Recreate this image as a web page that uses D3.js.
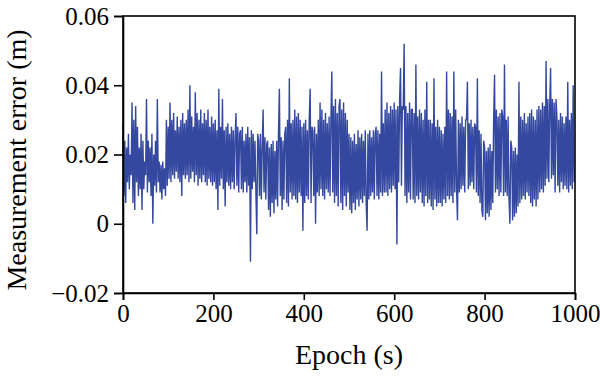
<!DOCTYPE html>
<html>
<head>
<meta charset="utf-8">
<script src="https://cdn.jsdelivr.net/npm/d3@7"></script>
<style>
    body { margin: 0; background: #fff; }
    .axis text { font-family: "Liberation Serif", "DejaVu Serif", serif; font-size: 25px; fill: #000; }
    .axis path, .axis line { stroke: #000; stroke-width: 1.6px; }
    .label { font-family: "Liberation Serif", "DejaVu Serif", serif; font-size: 28px; fill: #000; }
</style>
</head>
<body>
<div id="chart"></div>
<script>
// measurement error in mm, one value every 2 epochs (0 .. 998)
var epochStep = 2;
var errorMm = [
    29, 8, 24, 6, 22, 12, 26, 10, 20, 14,
    35, 6, 30, 4, 34, 12, 28, 8, 22, 10,
    26, 4, 24, 10, 18, 14, 36, 9, 24, 12,
    22, 8, 26, 0, 20, 11, 24, 9, 36, 12,
    18, 9, 17, 7, 18, 10, 16, 8, 30, 11,
    28, 13, 35, 12, 30, 14, 32, 13, 27, 15,
    31, 13, 28, 12, 30, 8, 32, 14, 29, 13,
    30, 14, 33, 12, 40, 13, 31, 15, 28, 12,
    38, 14, 32, 11, 30, 13, 33, 12, 29, 14,
    32, 12, 30, 11, 33, 13, 28, 12, 31, 11,
    29, 12, 30, 10, 27, 4, 39, 11, 28, 13,
    36, 10, 27, 5, 28, 12, 29, 11, 26, 10,
    28, 12, 27, 10, 25, 32, 11, 28, 9, 26,
    27, 10, 28, 9, 24, 12, 26, 9, 28, 11,
    25, -11, 27, 10, 26, 12, 24, 9, -3, 26,
    24, 8, 26, 7, 22, 33, 9, 25, 7, 23,
    24, 4, 22, 2, 23, 6, 24, 3, 21, 7,
    24, 5, 26, 39, 8, 25, 4, 24, 7, 26,
    28, 6, 30, 5, 42, 9, 29, 7, 30, 8,
    33, 7, 31, 6, 32, 9, 30, 8, 28, -2,
    29, 6, 30, 8, 27, 7, 30, 39, 6, 28,
    27, 8, 28, 0, 26, 9, 30, 8, 35, 10,
    33, 8, 30, 7, 32, 10, 29, 9, 31, 8,
    30, 44, 9, 34, 6, 36, 8, 32, 5, 34,
    36, 6, 33, 4, 35, 8, 32, 5, 30, 9,
    26, 4, 25, 3, 24, 6, 26, 4, 23, 7,
    27, 5, 25, 7, 26, 6, 24, 8, 27, 6,
    -2, 26, 7, 27, 8, 25, 9, 27, 7, 26,
    28, 8, 27, 7, 26, 9, 44, 8, 29, 9,
    33, 9, 35, 8, 32, 10, 34, 9, 33, 11,
    35, 10, 33, -6, 34, 12, 36, 45, 11, 34,
    33, 52, 8, 34, 6, 32, 9, 35, 7, 33,
    33, 7, 32, 6, 46, 8, 31, 7, 33, 9,
    32, 6, 30, 5, 33, 8, 41, 6, 30, 7,
    30, 5, 29, 4, 42, 7, 28, 5, 30, 6,
    28, 6, 27, 5, 26, 7, 28, 6, 44, 8,
    33, 7, 32, 8, 31, 6, 44, 9, 33, 10,
    1, 30, 9, 29, 10, 31, 11, 28, 9, 30,
    30, 41, 10, 29, 11, 30, 12, 28, 10, 29,
    28, 9, 42, 8, 27, 6, 26, 4, 2, 24,
    22, 1, 21, 3, 22, 2, 23, 4, 21, 6,
    30, 43, 9, 33, 10, 31, 8, 32, 9, 33,
    31, 8, 46, 9, 30, 8, 31, 7, 0, 24,
    22, 1, 21, 2, 22, 3, 20, 5, 41, 6,
    31, 7, 30, 8, 32, 7, 29, 9, 31, 8,
    32, 6, 33, 5, 31, 7, 30, 5, 33, 7,
    34, 9, 33, 10, 35, 9, 34, 11, 47, 13,
    36, 12, 34, 45, 13, 36, 14, 35, 9, 36,
    31, 11, 30, 9, 32, 12, 31, 10, 29, 11,
    31, 10, 41, 9, 30, 11, 32, 10, 40, 12
];
var xTicks = [0, 200, 400, 600, 800, 1000];
var yTicks = [-0.02, 0, 0.02, 0.04, 0.06];
var yTickLabels = ['\u22120.02', '0', '0.02', '0.04', '0.06'];

var width = 600,
    height = 382,
    margin = {top: 16, right: 25, bottom: 89, left: 123};

var data = errorMm.map(function (v, i) {
    return {epoch: i * epochStep, value: v / 1000};
});

var svg = d3.select('#chart').append('svg')
    .attr('width', width)
    .attr('height', height);

var x = d3.scaleLinear()
    .domain([0, 1000])
    .range([margin.left, width - margin.right]);

var y = d3.scaleLinear()
    .domain([-0.02, 0.06])
    .range([height - margin.bottom, margin.top]);

var line = d3.line()
    .x(function (d) { return x(d.epoch); })
    .y(function (d) { return y(d.value); });

svg.append('path')
    .datum(data)
    .attr('d', line)
    .attr('fill', 'none')
    .attr('stroke', '#34489f')
    .attr('stroke-width', 1.4);

// box frame
svg.append('rect')
    .attr('x', margin.left)
    .attr('y', margin.top)
    .attr('width', width - margin.left - margin.right)
    .attr('height', height - margin.top - margin.bottom)
    .attr('fill', 'none')
    .attr('stroke', '#000')
    .attr('stroke-width', 1.6);

svg.append('g')
    .attr('class', 'axis')
    .attr('transform', 'translate(0,' + (height - margin.bottom) + ')')
    .call(d3.axisBottom(x).tickValues(xTicks).tickSize(7).tickPadding(4).tickFormat(d3.format('d')));

svg.append('g')
    .attr('class', 'axis')
    .attr('transform', 'translate(' + margin.left + ',0)')
    .call(d3.axisLeft(y).tickValues(yTicks).tickSize(9).tickPadding(5)
        .tickFormat(function (d, i) { return yTickLabels[i]; }));

svg.append('text')
    .attr('class', 'label')
    .attr('x', (margin.left + width - margin.right) / 2)
    .attr('y', 364)
    .attr('text-anchor', 'middle')
    .text('Epoch (s)');

svg.append('text')
    .attr('class', 'label')
    .attr('transform', 'translate(26,160) rotate(-90)')
    .attr('text-anchor', 'middle')
    .text('Measurement error (m)');
</script>
</body>
</html>
